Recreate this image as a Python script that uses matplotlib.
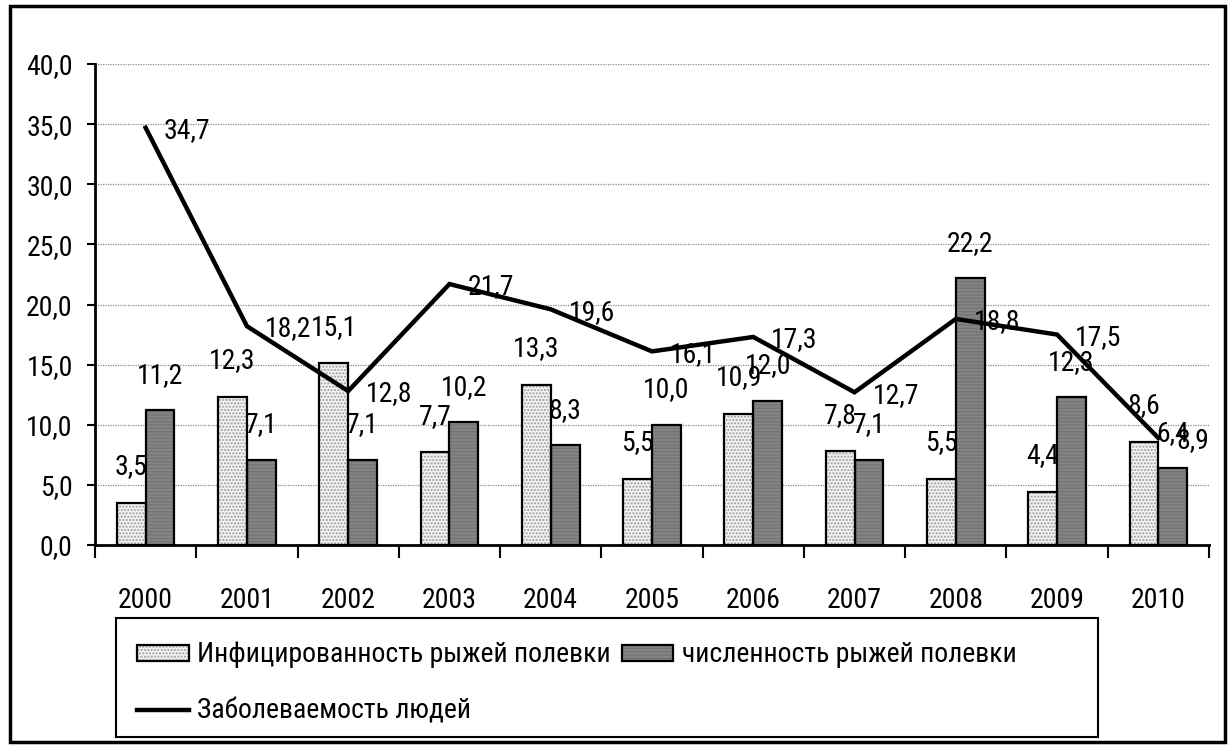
import numpy as np
import matplotlib
matplotlib.use('Agg')
import matplotlib.pyplot as plt
from matplotlib.patches import Patch, Rectangle
from matplotlib.lines import Line2D
from matplotlib.legend_handler import HandlerTuple

plt.rcParams['font.family'] = ['Roboto Condensed', 'Liberation Sans', 'DejaVu Sans']
plt.rcParams['font.size'] = 20

years = ['2000', '2001', '2002', '2003', '2004', '2005', '2006', '2007', '2008', '2009', '2010']
infected = [3.5, 12.3, 15.1, 7.7, 13.3, 5.5, 10.9, 7.8, 5.5, 4.4, 8.6]    # Инфицированность рыжей полевки
numbers = [11.2, 7.1, 7.1, 10.2, 8.3, 10.0, 12.0, 7.1, 22.2, 12.3, 6.4]   # численность рыжей полевки
incidence = [34.7, 18.2, 12.8, 21.7, 19.6, 16.1, 17.3, 12.7, 18.8, 17.5, 8.9]  # Заболеваемость людей

lbl_inf = 'Инфицированность рыжей полевки'
lbl_num = 'численность рыжей полевки'
lbl_inc = 'Заболеваемость людей'

def fmt(v):
    return ('%.1f' % v).replace('.', ',')

light = '#f2f2f2'
light_dots = '#9c9c9c'
dark = '#858585'
dark_lines = '#747474'

fig = plt.figure(figsize=(12.29, 7.46), dpi=100)
ax = fig.add_axes([95/1229, 1-545/746, (1209-95)/1229, (545-64)/746])

x = np.arange(len(years))
w = 0.285

# столбцы: сначала штриховка, потом чёрный контур
ax.bar(x - w/2, infected, w, color=light, hatch='.....', edgecolor=light_dots, linewidth=0, zorder=2)
ax.bar(x - w/2, infected, w, fill=False, edgecolor='black', linewidth=1.6, zorder=3)
ax.bar(x + w/2, numbers, w, color=dark, hatch='-----', edgecolor=dark_lines, linewidth=0, zorder=2)
ax.bar(x + w/2, numbers, w, fill=False, edgecolor='black', linewidth=1.6, zorder=3)

ax.plot(x, incidence, color='black', linewidth=3.2, zorder=4, solid_joinstyle='miter')

for i in range(len(years)):
    ax.annotate(fmt(infected[i]), (x[i] - w/2, infected[i]), xytext=(0, 26),
                textcoords='offset points', ha='center', va='center', zorder=5)
    ax.annotate(fmt(numbers[i]), (x[i] + w/2, numbers[i]), xytext=(0, 25),
                textcoords='offset points', ha='center', va='center', zorder=5)
    ax.annotate(fmt(incidence[i]), (x[i], incidence[i]), xytext=(13, -2),
                textcoords='offset points', ha='left', va='center', zorder=5)

ax.set_ylim(0, 40)
ax.set_xlim(-0.5, len(years) - 0.5)
ax.set_yticks(np.arange(0, 41, 5))
ax.set_yticklabels([fmt(v) for v in np.arange(0, 41, 5)])
ax.yaxis.grid(True, linestyle=(0, (1, 1)), color='#8a8a8a', linewidth=0.9)
ax.set_axisbelow(True)

ax.set_xticks(np.arange(-0.5, len(years), 1))
ax.set_xticklabels([])
ax.set_xticks(x, minor=True)
ax.set_xticklabels(years, minor=True)
ax.tick_params(axis='x', which='major', length=9, width=1.5, direction='out')
ax.tick_params(axis='x', which='minor', length=0, pad=30)
ax.tick_params(axis='y', length=6, width=1.5, pad=10)

for s in ['top', 'right']:
    ax.spines[s].set_visible(False)
for s in ['left', 'bottom']:
    ax.spines[s].set_linewidth(2)

# легенда
h_inf = (Patch(facecolor=light, hatch='.....', edgecolor=light_dots, linewidth=0),
         Patch(fill=False, edgecolor='black', linewidth=1.6))
h_num = (Patch(facecolor=dark, hatch='-----', edgecolor=dark_lines, linewidth=0),
         Patch(fill=False, edgecolor='black', linewidth=1.6))
h_inc = Line2D([], [], color='black', linewidth=3.2)
fig.legend([h_inf, h_inc, h_num], [lbl_inf, lbl_inc, lbl_num], ncol=2, fontsize=20,
           loc='upper left', bbox_to_anchor=(118/1229, 1-622/746), frameon=False,
           handlelength=1.85, handleheight=0.5, handletextpad=0.3, columnspacing=0.4,
           labelspacing=1.05, borderpad=0.2,
           handler_map={tuple: HandlerTuple(ndivide=1, pad=0)})

fig.add_artist(Rectangle((116/1229, 1-737/746), 982/1229, 119/746, transform=fig.transFigure,
                         fill=False, edgecolor='black', linewidth=1.5))
fig.add_artist(Rectangle((10/1229, 1-742/746), 1215/1229, 736/746, transform=fig.transFigure,
                         fill=False, edgecolor='black', linewidth=2.5))

fig.savefig('out.png', dpi=100)
